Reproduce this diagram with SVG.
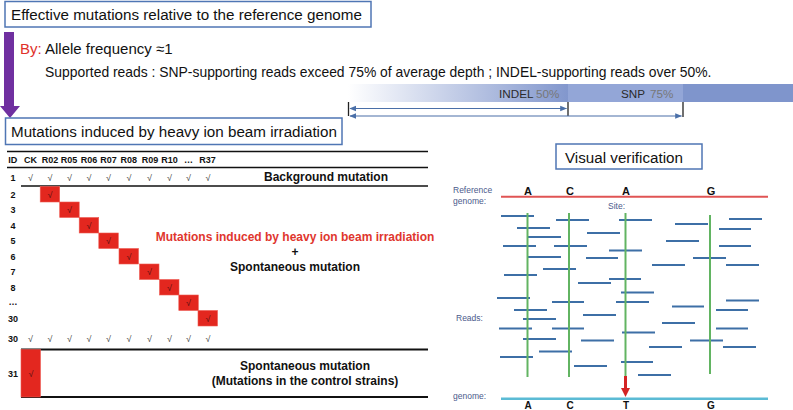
<svg xmlns="http://www.w3.org/2000/svg" width="793" height="410" viewBox="0 0 793 410">
<defs>
<style>
text{font-family:"Liberation Sans",Arial,sans-serif;}
.box{fill:#fff;stroke:#4f76b4;stroke-width:1.5;}
.big{font-size:15.2px;fill:#111;}
.hd{font-size:9px;font-weight:bold;fill:#111;text-anchor:middle;}
.ck{font-size:9px;fill:#444;text-anchor:middle;}
.ckr{font-size:9px;fill:#5a1010;text-anchor:middle;}
.red{fill:#e3271f;stroke:#ee5a52;stroke-width:0.6;}
.tl{stroke:#111;stroke-width:1.5;}
.bl{font-size:12px;font-weight:bold;fill:#111;text-anchor:middle;}
.lab{font-size:8.5px;fill:#4b5a8c;}
.nt{font-size:11px;font-weight:bold;fill:#111;text-anchor:middle;}
.ntb{font-size:10px;font-weight:bold;fill:#111;text-anchor:middle;}
.rd{stroke:#3d6fa6;stroke-width:2;}
.gr{stroke:#62b462;stroke-width:2;}
.ar{stroke:#4a6fa8;stroke-width:1.2;fill:none;}
</style>
<linearGradient id="g1" x1="0" x2="1" y1="0" y2="0">
<stop offset="0" stop-color="#ffffff"/>
<stop offset="1" stop-color="#8297cd"/>
</linearGradient>
<marker id="ah" viewBox="0 0 10 10" refX="9" refY="5" markerWidth="7" markerHeight="7" orient="auto-start-reverse" markerUnits="userSpaceOnUse">
<path d="M0,1 L10,5 L0,9 Z" fill="#4a6fa8"/>
</marker>
</defs>

<g id="top-box">
<rect class="box" x="5" y="1.5" width="366" height="25.5"/>
<text class="big" x="11" y="20">Effective mutations relative to the reference genome</text>
</g>

<g id="purple-arrow">
<polygon points="4,32 14,32 14,106 20,106 10,118 0,106 4,106" fill="#7030a0"/>
</g>

<g id="criteria">
<text x="20" y="54" style="font-size:15px;fill:#e0302a">By:</text>
<text x="45" y="54" style="font-size:15px;fill:#111">Allele frequency ≈1</text>
<text x="45" y="77" style="font-size:13.9px;fill:#111">Supported reads : SNP-supporting reads exceed 75% of average depth ; INDEL-supporting reads over 50%.</text>
</g>

<g id="depth-bar">
<rect x="348" y="84" width="220" height="18" fill="url(#g1)"/>
<rect x="568" y="84" width="115" height="18" fill="#93a6d7"/>
<rect x="683" y="84" width="110" height="18" fill="#7f95cc"/>
<text x="499" y="98" style="font-size:11.7px;fill:#2b2b2b">INDEL</text>
<text x="536" y="98" style="font-size:11.7px;fill:#777">50%</text>
<text x="621" y="98" style="font-size:11.7px;fill:#2b2b2b">SNP</text>
<text x="650" y="98" style="font-size:11.7px;fill:#777">75%</text>
</g>

<g id="depth-arrows">
<line x1="348.5" y1="102" x2="348.5" y2="116" stroke="#222" stroke-width="1.3"/>
<line x1="568" y1="102" x2="568" y2="116" stroke="#222" stroke-width="1.3"/>
<line x1="683" y1="102" x2="683" y2="117" stroke="#222" stroke-width="1.3"/>
<line class="ar" x1="350" y1="108.5" x2="566.5" y2="108.5" marker-start="url(#ah)" marker-end="url(#ah)"/>
<line class="ar" x1="350" y1="116" x2="681.5" y2="116" marker-start="url(#ah)" marker-end="url(#ah)"/>
</g>

<g id="induced-box">
<rect class="box" x="5.5" y="118" width="336.5" height="26.5"/>
<text class="big" x="11" y="137">Mutations induced by heavy ion beam irradiation</text>
</g>

<g id="table">
<line class="tl" x1="7" y1="151.5" x2="428" y2="151.5"/>
<line class="tl" x1="7" y1="167.5" x2="428" y2="167.5"/>
<line class="tl" x1="21" y1="186" x2="428" y2="186"/>
<line class="tl" x1="21" y1="349.5" x2="428" y2="349.5" style="stroke-width:2"/>
<line class="tl" x1="21" y1="397" x2="428" y2="397" style="stroke-width:2"/>
<g id="header">
<text class="hd" x="12.8" y="163">ID</text>
<text class="hd" x="30.5" y="163">CK</text>
<text class="hd" x="50" y="163">R02</text>
<text class="hd" x="69" y="163">R05</text>
<text class="hd" x="89" y="163">R06</text>
<text class="hd" x="108.5" y="163">R07</text>
<text class="hd" x="128.7" y="163">R08</text>
<text class="hd" x="150" y="163">R09</text>
<text class="hd" x="169.5" y="163">R10</text>
<text class="hd" x="188.5" y="163">…</text>
<text class="hd" x="207.5" y="163">R37</text>
</g>
<g id="row-labels">
<text class="hd" x="13" y="180.5">1</text>
<text class="hd" x="13" y="197.5">2</text>
<text class="hd" x="13" y="213">3</text>
<text class="hd" x="13" y="228.5">4</text>
<text class="hd" x="13" y="244">5</text>
<text class="hd" x="13" y="259.5">6</text>
<text class="hd" x="13" y="275">7</text>
<text class="hd" x="13" y="290.5">8</text>
<text class="hd" x="13" y="305">…</text>
<text class="hd" x="13" y="321.5">30</text>
<text class="hd" x="13" y="341.5">30</text>
<text class="hd" x="13" y="376.5">31</text>
</g>
<g id="row1-checks">
<text class="ck" x="30.5" y="180.5">√</text>
<text class="ck" x="50" y="180.5">√</text>
<text class="ck" x="69.5" y="180.5">√</text>
<text class="ck" x="89" y="180.5">√</text>
<text class="ck" x="108.5" y="180.5">√</text>
<text class="ck" x="129" y="180.5">√</text>
<text class="ck" x="149.5" y="180.5">√</text>
<text class="ck" x="169.5" y="180.5">√</text>
<text class="ck" x="188.5" y="180.5">√</text>
<text class="ck" x="208" y="180.5">√</text>
</g>
<g id="row30-checks">
<text class="ck" x="30.5" y="341.5">√</text>
<text class="ck" x="50" y="341.5">√</text>
<text class="ck" x="69.5" y="341.5">√</text>
<text class="ck" x="89" y="341.5">√</text>
<text class="ck" x="108.5" y="341.5">√</text>
<text class="ck" x="129" y="341.5">√</text>
<text class="ck" x="149.5" y="341.5">√</text>
<text class="ck" x="169.5" y="341.5">√</text>
<text class="ck" x="188.5" y="341.5">√</text>
<text class="ck" x="208" y="341.5">√</text>
</g>
<g id="diagonal">
<rect class="red" x="40.2" y="186.5" width="19.5" height="15.5"/>
<rect class="red" x="59.7" y="202" width="19.5" height="15.5"/>
<rect class="red" x="79.2" y="217.5" width="19.5" height="15.5"/>
<rect class="red" x="98.8" y="233" width="19.5" height="15.5"/>
<rect class="red" x="119" y="248.5" width="19.5" height="15.5"/>
<rect class="red" x="139.5" y="264" width="19.5" height="15.5"/>
<rect class="red" x="159.5" y="279.5" width="19.5" height="15.5"/>
<rect class="red" x="178.8" y="295" width="19.5" height="15.5"/>
<rect class="red" x="198" y="310.5" width="19.5" height="15.5"/>
<text class="ckr" x="50" y="197.5">√</text>
<text class="ckr" x="69.5" y="213">√</text>
<text class="ckr" x="89" y="228.5">√</text>
<text class="ckr" x="108.5" y="244">√</text>
<text class="ckr" x="129" y="259.5">√</text>
<text class="ckr" x="149.5" y="275">√</text>
<text class="ckr" x="169.5" y="290.5">√</text>
<text class="ckr" x="188.5" y="306">√</text>
<text class="ckr" x="208" y="321.5">√</text>
</g>
<g id="control-block">
<rect class="red" x="21" y="349.5" width="19.5" height="47.5"/>
<text class="ckr" x="31" y="376.5">√</text>
</g>
<g id="table-notes">
<text class="bl" x="326" y="181">Background mutation</text>
<text class="bl" x="295" y="241" style="fill:#e0362e">Mutations induced by heavy ion beam irradiation</text>
<text class="bl" x="295" y="256">+</text>
<text class="bl" x="295" y="271">Spontaneous mutation</text>
<text class="bl" x="305" y="370">Spontaneous mutation</text>
<text class="bl" x="305" y="384.5">(Mutations in the control strains)</text>
</g>
</g>

<g id="visual-box">
<rect class="box" x="556" y="144" width="146" height="25"/>
<text class="big" x="565" y="162.5">Visual verification</text>
</g>

<g id="reference-genome">
<text class="lab" x="453" y="193">Reference</text>
<text class="lab" x="453" y="203.5">genome:</text>
<line x1="501" y1="196.8" x2="768" y2="196.8" stroke="#e05454" stroke-width="2"/>
<text class="nt" x="528" y="194.5">A</text>
<text class="nt" x="570" y="194.5">C</text>
<text class="nt" x="626" y="194.5">A</text>
<text class="nt" x="711" y="194.5">G</text>
<text class="lab" x="608" y="209">Site:</text>
</g>

<g id="reads">
<text class="lab" x="456" y="321">Reads:</text>
<line class="rd" x1="501" y1="216" x2="534" y2="216"/>
<line class="rd" x1="556" y1="220" x2="589" y2="220"/>
<line class="rd" x1="619" y1="220" x2="652" y2="220"/>
<line class="rd" x1="729" y1="219" x2="762" y2="219"/>
<line class="rd" x1="675" y1="224" x2="708" y2="224"/>
<line class="rd" x1="517" y1="228" x2="550" y2="228"/>
<line class="rd" x1="719" y1="229" x2="751" y2="229"/>
<line class="rd" x1="587" y1="233" x2="620" y2="233"/>
<line class="rd" x1="528" y1="237" x2="561" y2="237"/>
<line class="rd" x1="666" y1="241" x2="699" y2="241"/>
<line class="rd" x1="503" y1="246" x2="536" y2="246"/>
<line class="rd" x1="554" y1="246" x2="587" y2="246"/>
<line class="rd" x1="719" y1="246" x2="751" y2="246"/>
<line class="rd" x1="609" y1="250.5" x2="642" y2="250.5"/>
<line class="rd" x1="528" y1="257" x2="561" y2="257"/>
<line class="rd" x1="586" y1="258" x2="618" y2="258"/>
<line class="rd" x1="693" y1="258" x2="726" y2="258"/>
<line class="rd" x1="652" y1="265" x2="685" y2="265"/>
<line class="rd" x1="726" y1="265" x2="759" y2="265"/>
<line class="rd" x1="543" y1="269" x2="576" y2="269"/>
<line class="rd" x1="504" y1="275" x2="537" y2="275"/>
<line class="rd" x1="609" y1="279" x2="641" y2="279"/>
<line class="rd" x1="578" y1="283" x2="611" y2="283"/>
<line class="rd" x1="621" y1="292.5" x2="654" y2="292.5"/>
<line class="rd" x1="497" y1="298" x2="530" y2="298"/>
<line class="rd" x1="552" y1="302" x2="584" y2="302"/>
<line class="rd" x1="616" y1="302" x2="649" y2="302"/>
<line class="rd" x1="726" y1="300.5" x2="759" y2="300.5"/>
<line class="rd" x1="672" y1="306.5" x2="704" y2="306.5"/>
<line class="rd" x1="514" y1="310" x2="547" y2="310"/>
<line class="rd" x1="716" y1="310" x2="748" y2="310"/>
<line class="rd" x1="523" y1="319" x2="556" y2="319"/>
<line class="rd" x1="583" y1="315" x2="616" y2="315"/>
<line class="rd" x1="662" y1="323" x2="695" y2="323"/>
<line class="rd" x1="499" y1="328.5" x2="532" y2="328.5"/>
<line class="rd" x1="552" y1="328.5" x2="584" y2="328.5"/>
<line class="rd" x1="716" y1="328.5" x2="748" y2="328.5"/>
<line class="rd" x1="622" y1="332.5" x2="655" y2="332.5"/>
<line class="rd" x1="523" y1="339" x2="556" y2="339"/>
<line class="rd" x1="581" y1="340.5" x2="614" y2="340.5"/>
<line class="rd" x1="690" y1="340.5" x2="723" y2="340.5"/>
<line class="rd" x1="649" y1="347" x2="682" y2="347"/>
<line class="rd" x1="723" y1="347" x2="756" y2="347"/>
<line class="rd" x1="539" y1="351.5" x2="572" y2="351.5"/>
<line class="rd" x1="500" y1="357" x2="533" y2="357"/>
<line class="rd" x1="621" y1="362" x2="653" y2="362"/>
<line class="rd" x1="574" y1="366" x2="607" y2="366"/>
<line class="rd" x1="638" y1="375" x2="671" y2="375"/>
</g>

<g id="site-lines">
<line class="gr" x1="527.5" y1="213" x2="527.5" y2="377"/>
<line class="gr" x1="569" y1="213" x2="569" y2="377"/>
<line class="gr" x1="625.5" y1="213" x2="625.5" y2="376"/>
<line class="gr" x1="710" y1="215" x2="710" y2="374"/>
</g>

<g id="mutation-arrow">
<line x1="625.5" y1="376" x2="625.5" y2="389" stroke="#d42424" stroke-width="3"/>
<polygon points="621,388 630,388 625.5,397" fill="#d42424"/>
</g>

<g id="sample-genome">
<text class="lab" x="453" y="399">genome:</text>
<line x1="501" y1="398.8" x2="768" y2="398.8" stroke="#5bbbd5" stroke-width="2.5"/>
<text class="ntb" x="528" y="409">A</text>
<text class="ntb" x="570" y="409">C</text>
<text class="ntb" x="626" y="409">T</text>
<text class="ntb" x="711" y="409">G</text>
</g>
</svg>
